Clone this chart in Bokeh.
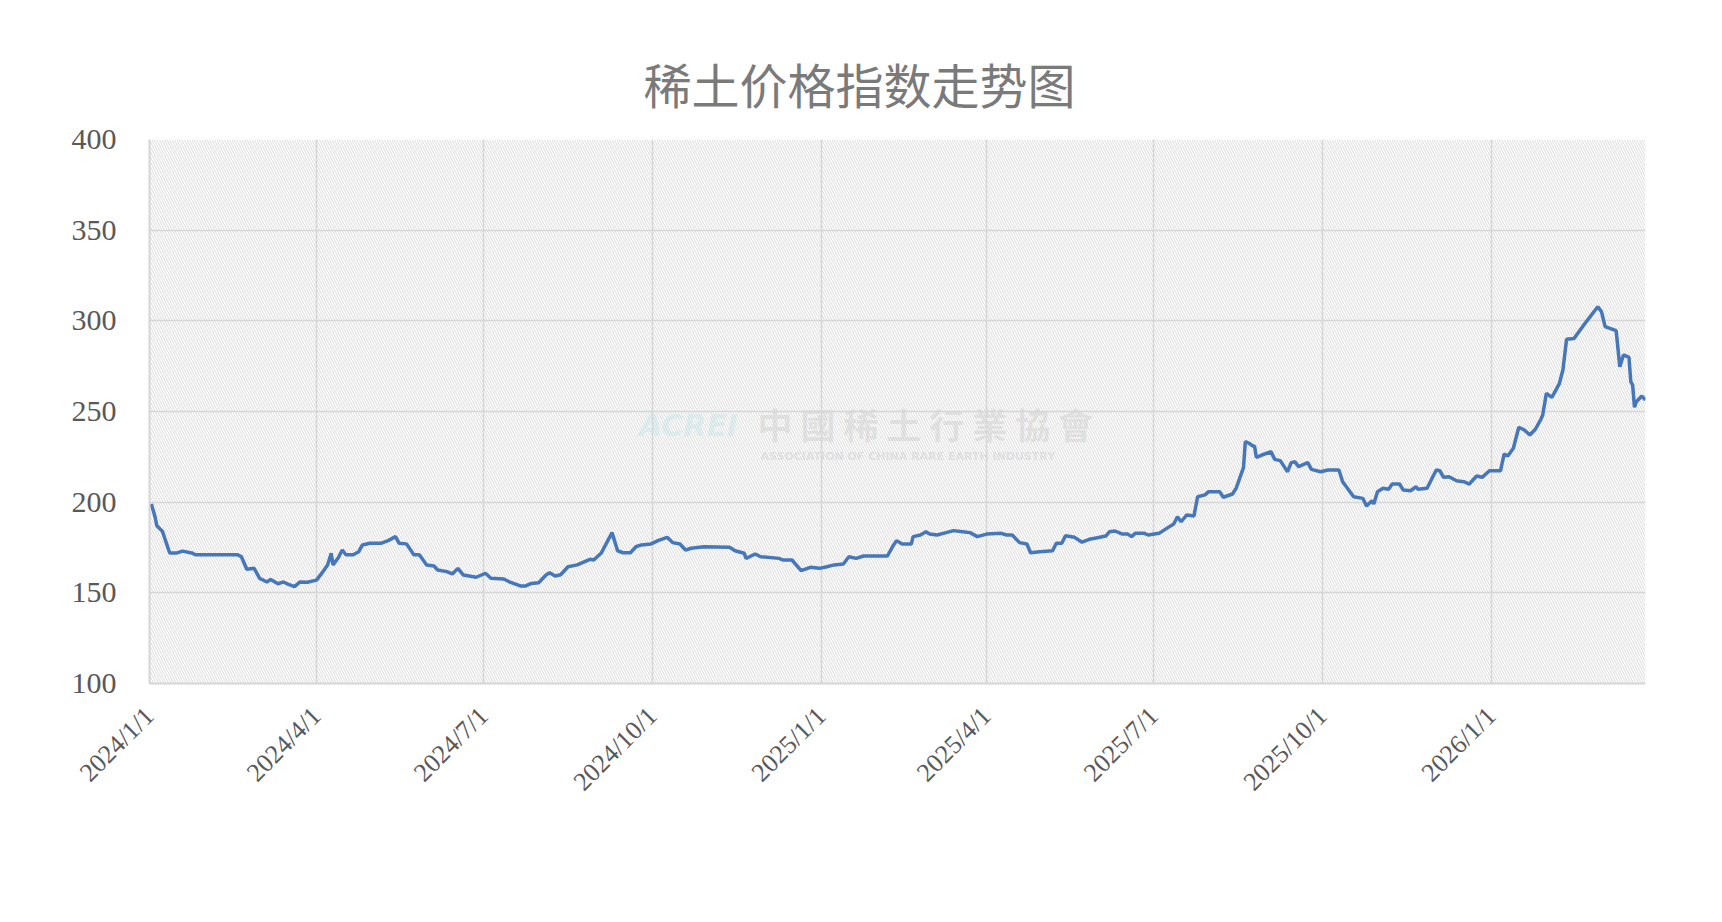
import math
import pandas as pd
from bokeh.plotting import figure
from bokeh.models import (ColumnDataSource, Range1d, FixedTicker, CustomJSTickFormatter,
                          BoxAnnotation, Label, Title)
from bokeh.embed import file_html
from bokeh.resources import INLINE

# ---------------- data ----------------
title_text = "稀土价格指数走势图"

dates = [
    "2024-01-02", "2024-01-04", "2024-01-05", "2024-01-08", "2024-01-12", "2024-01-16",
    "2024-01-19", "2024-01-24", "2024-01-26", "2024-02-18", "2024-02-20", "2024-02-23",
    "2024-02-27", "2024-03-01", "2024-03-05", "2024-03-07", "2024-03-11", "2024-03-14",
    "2024-03-16", "2024-03-20", "2024-03-23", "2024-03-27", "2024-04-01", "2024-04-04",
    "2024-04-07", "2024-04-09", "2024-04-10", "2024-04-13", "2024-04-15", "2024-04-17",
    "2024-04-21", "2024-04-24", "2024-04-26", "2024-04-30", "2024-05-06", "2024-05-10",
    "2024-05-14", "2024-05-16", "2024-05-20", "2024-05-24", "2024-05-27", "2024-05-31",
    "2024-06-04", "2024-06-06", "2024-06-11", "2024-06-14", "2024-06-17", "2024-06-20",
    "2024-06-27", "2024-07-02", "2024-07-05", "2024-07-12", "2024-07-15", "2024-07-21",
    "2024-07-24", "2024-07-27", "2024-07-31", "2024-08-04", "2024-08-06", "2024-08-09",
    "2024-08-12", "2024-08-16", "2024-08-21", "2024-08-28", "2024-08-30", "2024-09-03",
    "2024-09-09", "2024-09-12", "2024-09-15", "2024-09-19", "2024-09-22", "2024-09-25",
    "2024-09-30", "2024-10-04", "2024-10-09", "2024-10-12", "2024-10-16", "2024-10-19",
    "2024-10-22", "2024-10-29", "2024-11-12", "2024-11-15", "2024-11-20", "2024-11-21",
    "2024-11-26", "2024-11-29", "2024-12-09", "2024-12-11", "2024-12-16", "2024-12-21",
    "2024-12-26", "2024-12-31", "2025-01-04", "2025-01-08", "2025-01-13", "2025-01-16",
    "2025-01-20", "2025-01-24", "2025-02-06", "2025-02-09", "2025-02-11", "2025-02-14",
    "2025-02-19", "2025-02-20", "2025-02-24", "2025-02-27", "2025-03-01", "2025-03-05",
    "2025-03-10", "2025-03-14", "2025-03-19", "2025-03-23", "2025-03-27", "2025-04-01",
    "2025-04-09", "2025-04-12", "2025-04-15", "2025-04-19", "2025-04-23", "2025-04-25",
    "2025-04-30", "2025-05-07", "2025-05-09", "2025-05-12", "2025-05-14", "2025-05-19",
    "2025-05-23", "2025-05-27", "2025-05-30", "2025-06-05", "2025-06-07", "2025-06-10",
    "2025-06-14", "2025-06-17", "2025-06-19", "2025-06-21", "2025-06-26", "2025-06-28",
    "2025-07-04", "2025-07-09", "2025-07-12", "2025-07-14", "2025-07-16", "2025-07-19",
    "2025-07-23", "2025-07-25", "2025-07-29", "2025-07-31", "2025-08-06", "2025-08-08",
    "2025-08-13", "2025-08-15", "2025-08-19", "2025-08-20", "2025-08-22", "2025-08-24",
    "2025-08-25", "2025-08-26", "2025-08-29", "2025-09-03", "2025-09-05", "2025-09-08",
    "2025-09-12", "2025-09-14", "2025-09-16", "2025-09-18", "2025-09-23", "2025-09-25",
    "2025-09-30", "2025-10-04", "2025-10-10", "2025-10-12", "2025-10-14", "2025-10-18",
    "2025-10-23", "2025-10-25", "2025-10-28", "2025-10-29", "2025-10-31", "2025-11-03",
    "2025-11-06", "2025-11-08", "2025-11-12", "2025-11-14", "2025-11-18", "2025-11-21",
    "2025-11-22", "2025-11-27", "2025-12-02", "2025-12-04", "2025-12-06", "2025-12-09",
    "2025-12-13", "2025-12-17", "2025-12-20", "2025-12-24", "2025-12-27", "2025-12-31",
    "2026-01-06", "2026-01-08", "2026-01-10", "2026-01-13", "2026-01-16", "2026-01-19",
    "2026-01-22", "2026-01-25", "2026-01-28", "2026-01-29", "2026-01-31", "2026-02-03",
    "2026-02-07", "2026-02-09", "2026-02-11", "2026-02-15", "2026-02-20", "2026-02-28",
    "2026-03-02", "2026-03-04", "2026-03-10", "2026-03-12", "2026-03-14", "2026-03-17",
    "2026-03-18", "2026-03-19", "2026-03-20", "2026-03-21", "2026-03-24", "2026-03-26",
]

index_values = [
    199.0, 192.0, 187.0, 184.0, 172.0, 172.0,
    173.0, 172.0, 171.0, 171.0, 170.0, 163.0,
    163.5, 158.0, 156.0, 157.4, 155.0, 156.0,
    155.0, 153.4, 156.0, 155.8, 157.0, 161.0,
    165.4, 171.8, 165.4, 169.6, 173.6, 171.0,
    171.0, 172.7, 176.4, 177.3, 177.3, 178.8,
    181.0, 177.3, 177.0, 171.0, 171.0, 165.4,
    164.8, 162.6, 161.7, 160.4, 163.5, 159.8,
    158.6, 160.8, 158.0, 157.6, 156.1, 153.8,
    153.8, 155.2, 155.6, 159.8, 161.1, 159.3,
    160.0, 164.4, 165.4, 168.5, 168.1, 171.8,
    183.2, 173.2, 172.1, 172.1, 175.4, 176.4,
    176.9, 178.8, 180.6, 177.7, 176.9, 173.6,
    174.6, 175.4, 175.1, 173.2, 171.8, 169.0,
    171.4, 169.9, 169.0, 168.1, 168.1, 162.2,
    164.1, 163.5, 164.4, 165.4, 165.9, 169.9,
    169.0, 170.3, 170.3, 175.8, 178.8, 176.9,
    176.9, 181.0, 181.9, 183.7, 182.4, 181.9,
    183.2, 184.3, 183.7, 183.2, 181.0, 182.4,
    182.8, 181.9, 181.9, 177.7, 176.9, 172.1,
    172.7, 173.2, 177.3, 177.3, 181.5, 180.6,
    177.9, 179.5, 180.1, 181.3, 183.7, 184.1,
    182.4, 182.4, 181.0, 182.8, 182.8, 181.9,
    182.8, 186.1, 188.0, 192.0, 189.2, 192.9,
    192.4, 203.0, 204.0, 205.8, 205.8, 202.7,
    204.5, 207.7, 219.2, 233.4, 232.5, 231.0,
    231.0, 224.7, 226.0, 227.8, 223.6, 222.9,
    216.8, 221.8, 222.3, 219.6, 221.8, 218.1,
    216.8, 217.7, 217.7, 211.3, 208.5, 203.0,
    202.1, 197.9, 200.8, 199.0, 205.8, 207.7,
    207.1, 210.0, 210.0, 206.7, 206.3, 208.5,
    207.1, 207.7, 217.7, 217.3, 213.7, 214.0,
    211.8, 211.3, 210.0, 214.4, 213.7, 217.3,
    217.3, 226.6, 225.5, 229.7, 241.3, 239.8,
    237.0, 240.2, 245.7, 248.1, 260.0, 257.8,
    265.2, 272.9, 289.8, 290.2, 297.2, 307.8,
    305.1, 296.8, 294.6, 274.7, 281.2, 279.9,
    266.4, 264.6, 252.3, 255.4, 258.5, 256.3,
]

x_tick_dates = ["2024-01-01", "2024-04-01", "2024-07-01", "2024-10-01", "2025-01-01",
                "2025-04-01", "2025-07-01", "2025-10-01", "2026-01-01"]
y_ticks = [100, 150, 200, 250, 300, 350, 400]
x_start, x_end = "2024-01-01", "2026-03-26"

watermark_cn = "中 國 稀 土 行 業 協 會"
watermark_en = "ASSOCIATION OF CHINA RARE EARTH INDUSTRY"
watermark_logo = "ACREI"

# ---------------- figure ----------------
source = ColumnDataSource(data=dict(date=pd.to_datetime(dates), value=index_values))

p = figure(
    frame_width=1496, frame_height=544,
    min_border_left=149, min_border_right=61, min_border_top=139, min_border_bottom=223,
    x_axis_type="datetime",
    x_range=Range1d(pd.Timestamp(x_start), pd.Timestamp(x_end)),
    y_range=Range1d(y_ticks[0], y_ticks[-1]),
    output_backend="svg", toolbar_location=None,
    background_fill_color="white", border_fill_color="white",
)
p.outline_line_color = None

# small invisible spacer panel next to the plot area, then the title further out
p.add_layout(Title(text=".", text_font="Noto Sans CJK SC", text_font_size="10px",
                   text_color="white", text_alpha=0, standoff=6), "above")
p.add_layout(Title(text=title_text, align="left", offset=494, standoff=44,
                   text_font="Noto Sans CJK SC", text_font_size="48px",
                   text_font_style="normal", text_color="#7a7a7a"), "above")

# hatched plot area
p.add_layout(BoxAnnotation(fill_color=None, fill_alpha=0, line_color=None,
                           hatch_pattern="\\", hatch_color="#dadada",
                           hatch_scale=5, hatch_weight=1, level="image"))

# grids
p.xgrid.grid_line_color = "#d6d6d6"
p.xgrid.grid_line_width = 1.5
p.ygrid.grid_line_color = "#d6d6d6"
p.ygrid.grid_line_width = 1.5

# y axis
p.yaxis.ticker = FixedTicker(ticks=y_ticks)
p.yaxis.axis_line_color = "#d6d6d6"
p.yaxis.axis_line_width = 2
p.yaxis.major_tick_line_color = None
p.yaxis.minor_tick_line_color = None
p.yaxis.major_tick_out = 0
p.yaxis.major_label_standoff = 33
p.yaxis.major_label_text_font = "Liberation Serif"
p.yaxis.major_label_text_font_size = "30px"
p.yaxis.major_label_text_color = "#595959"

# x axis
x_ticks_ms = [pd.Timestamp(d).timestamp() * 1000 for d in x_tick_dates]
p.xaxis.ticker = FixedTicker(ticks=x_ticks_ms)
p.xaxis.formatter = CustomJSTickFormatter(code="""
    const d = new Date(tick);
    return d.getUTCFullYear() + "/" + (d.getUTCMonth() + 1) + "/" + d.getUTCDate();
""")
p.xaxis.major_label_orientation = math.pi / 4
p.xaxis.axis_line_color = "#d6d6d6"
p.xaxis.axis_line_width = 2
p.xaxis.major_tick_line_color = None
p.xaxis.minor_tick_line_color = None
p.xaxis.major_tick_out = 0
p.xaxis.major_label_standoff = 28
p.xaxis.major_label_text_font = "Liberation Serif"
p.xaxis.major_label_text_font_size = "26px"
p.xaxis.major_label_text_color = "#595959"

# watermark (faint)
p.add_layout(Label(x=539, y=258, x_units="screen", y_units="screen", text=watermark_logo,
                   text_font="DejaVu Sans", text_font_style="bold italic", text_font_size="30px",
                   text_color="#a8dde3", text_alpha=0.3, text_align="center",
                   text_baseline="middle", level="image"))
p.add_layout(Label(x=608, y=260, x_units="screen", y_units="screen", text=watermark_cn,
                   text_font="Noto Sans CJK TC", text_font_style="bold", text_font_size="35px",
                   text_color="#c4c4c4", text_alpha=0.38, text_align="left",
                   text_baseline="middle", level="image"))
p.add_layout(Label(x=611, y=227, x_units="screen", y_units="screen", text=watermark_en,
                   text_font="DejaVu Sans", text_font_style="bold", text_font_size="11px",
                   text_color="#c4c4c4", text_alpha=0.4, text_align="left",
                   text_baseline="middle", level="image"))

# series
p.line("date", "value", source=source, line_color="#4677BA", line_width=3.5)

open("out.html", "w").write(file_html(p, INLINE))
